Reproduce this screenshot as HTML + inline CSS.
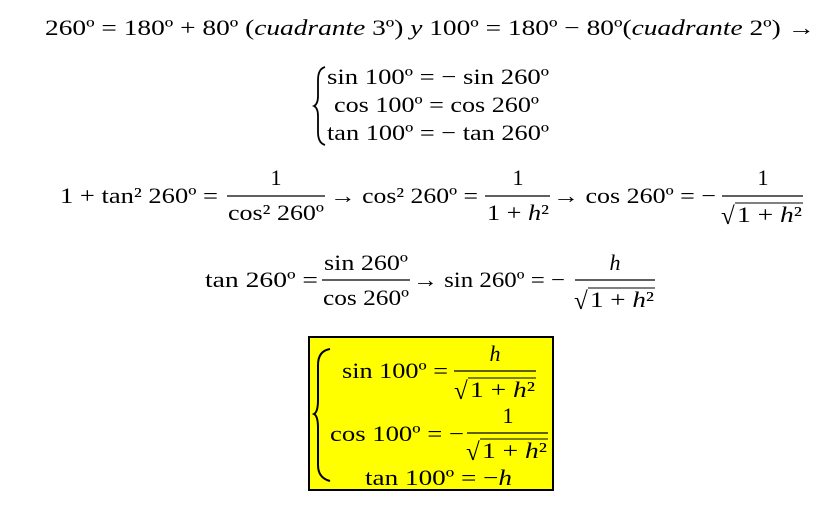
<!DOCTYPE html>
<html><head><meta charset="utf-8"><style>
html,body{margin:0;padding:0;background:#fff;}
svg{display:block;}
text{font-family:"Liberation Serif",serif;font-size:22px;fill:#000;}
.i{font-style:italic;}
.sq{font-size:25px;}
</style></head><body>
<svg width="837" height="506" viewBox="0 0 837 506" xmlns="http://www.w3.org/2000/svg">
<!-- line 1 -->
<text x="45" y="35" textLength="770" lengthAdjust="spacingAndGlyphs">260º = 180º + 80º  (<tspan class="i">cuadrante</tspan> 3º)  <tspan class="i">y</tspan>  100º = 180º − 80º(<tspan class="i">cuadrante</tspan> 2º) →</text>
<!-- brace system -->
<path d="M325 67 Q318 69 318 80 L318 96 Q318 104 314 106 Q318 108 318 116 L318 132 Q318 143 325 145" fill="none" stroke="#000" stroke-width="1.8"/>
<text x="327" y="84" textLength="222" lengthAdjust="spacingAndGlyphs">sin 100º = − sin 260º</text>
<text x="334" y="112" textLength="205" lengthAdjust="spacingAndGlyphs">cos 100º = cos 260º</text>
<text x="327" y="140" textLength="222" lengthAdjust="spacingAndGlyphs">tan 100º = − tan 260º</text>
<!-- line 3 -->
<text x="60" y="203" textLength="158" lengthAdjust="spacingAndGlyphs">1 + tan² 260º =</text>
<line x1="227" y1="196" x2="325" y2="196" stroke="#000" stroke-width="1.3"/>
<text x="276" y="185" text-anchor="middle">1</text>
<text x="228" y="220" textLength="96" lengthAdjust="spacingAndGlyphs">cos² 260º</text>
<text x="330" y="203" textLength="148" lengthAdjust="spacingAndGlyphs">→ cos² 260º =</text>
<line x1="485" y1="196" x2="550" y2="196" stroke="#000" stroke-width="1.3"/>
<text x="518" y="185" text-anchor="middle">1</text>
<text x="487" y="220" textLength="62" lengthAdjust="spacingAndGlyphs">1 + <tspan class="i">h</tspan>²</text>
<text x="553" y="203" textLength="163" lengthAdjust="spacingAndGlyphs">→ cos 260º = −</text>
<line x1="722" y1="196" x2="803" y2="196" stroke="#000" stroke-width="1.3"/>
<text x="763" y="185" text-anchor="middle">1</text>
<text x="721" y="224" class="sq">√</text>
<line x1="735" y1="203" x2="803" y2="203" stroke="#000" stroke-width="1"/>
<text x="737" y="222" textLength="65" lengthAdjust="spacingAndGlyphs">1 + <tspan class="i">h</tspan>²</text>
<!-- line 4 -->
<text x="205" y="287" textLength="113" lengthAdjust="spacingAndGlyphs">tan 260º =</text>
<line x1="322" y1="280" x2="410" y2="280" stroke="#000" stroke-width="1.3"/>
<text x="324" y="270" textLength="84" lengthAdjust="spacingAndGlyphs">sin 260º</text>
<text x="323" y="305" textLength="86" lengthAdjust="spacingAndGlyphs">cos 260º</text>
<text x="413" y="287" textLength="152" lengthAdjust="spacingAndGlyphs">→ sin 260º = −</text>
<line x1="575" y1="280" x2="655" y2="280" stroke="#000" stroke-width="1.3"/>
<text x="615" y="270" text-anchor="middle" class="i">h</text>
<text x="574" y="309" class="sq">√</text>
<line x1="588" y1="288" x2="655" y2="288" stroke="#000" stroke-width="1"/>
<text x="590" y="307" textLength="64" lengthAdjust="spacingAndGlyphs">1 + <tspan class="i">h</tspan>²</text>
<!-- box -->
<rect x="309" y="337" width="244" height="153" fill="#ffff00" stroke="#000" stroke-width="2"/>
<path d="M330 349 Q318 351 318 365 L318 400 Q318 412 314 414 Q318 416 318 428 L318 465 Q318 478 330 481" fill="none" stroke="#000" stroke-width="2"/>
<text x="342" y="378" textLength="106" lengthAdjust="spacingAndGlyphs">sin 100º =</text>
<line x1="454" y1="371" x2="536" y2="371" stroke="#000" stroke-width="1.3"/>
<text x="495" y="361" text-anchor="middle" class="i">h</text>
<text x="454" y="399" class="sq">√</text>
<line x1="468" y1="378" x2="536" y2="378" stroke="#000" stroke-width="1"/>
<text x="470" y="397" textLength="65" lengthAdjust="spacingAndGlyphs">1 + <tspan class="i">h</tspan>²</text>
<text x="330" y="441" textLength="134" lengthAdjust="spacingAndGlyphs">cos 100º = −</text>
<line x1="467" y1="433" x2="548" y2="433" stroke="#000" stroke-width="1.3"/>
<text x="508" y="423" text-anchor="middle">1</text>
<text x="466" y="460" class="sq">√</text>
<line x1="480" y1="439" x2="548" y2="439" stroke="#000" stroke-width="1"/>
<text x="482" y="458" textLength="65" lengthAdjust="spacingAndGlyphs">1 + <tspan class="i">h</tspan>²</text>
<text x="365" y="485" textLength="147" lengthAdjust="spacingAndGlyphs">tan 100º = −<tspan class="i">h</tspan></text>
</svg>
</body></html>
